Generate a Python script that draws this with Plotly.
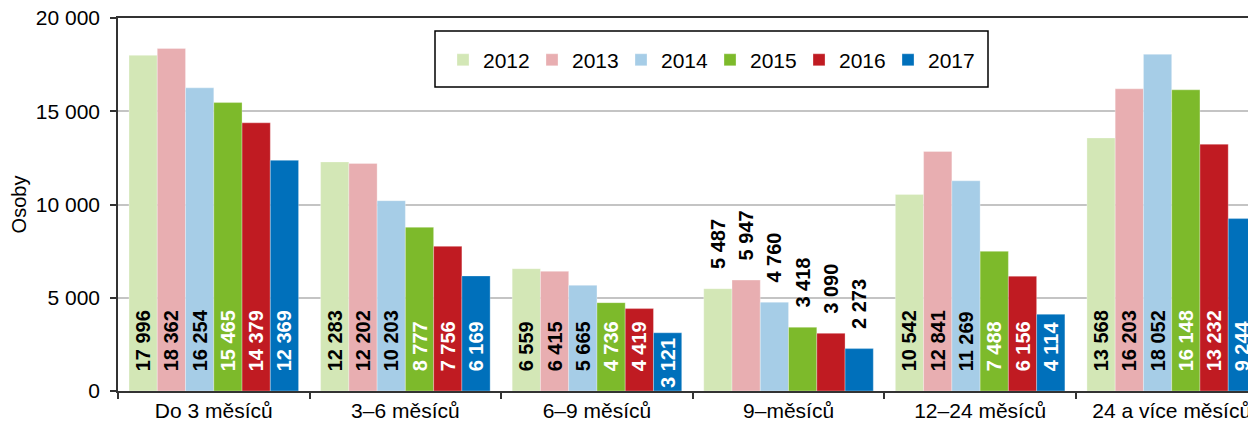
import plotly.graph_objects as go

# Data
categories = ["Do 3 měsíců", "3–6 měsíců", "6–9 měsíců", "9–měsíců", "12–24 měsíců", "24 a více měsíců"]
years = ["2012", "2013", "2014", "2015", "2016", "2017"]
v2012 = [17996, 12283, 6559, 5487, 10542, 13568]
v2013 = [18362, 12202, 6415, 5947, 12841, 16203]
v2014 = [16254, 10203, 5665, 4760, 11269, 18052]
v2015 = [15465, 8777, 4736, 3418, 7488, 16148]
v2016 = [14379, 7756, 4419, 3090, 6156, 13232]
v2017 = [12369, 6169, 3121, 2273, 4114, 9244]
series = [v2012, v2013, v2014, v2015, v2016, v2017]

colors = ["#d3e7b6", "#e8aeb1", "#a6cde7", "#7dba2b", "#c01b22", "#0070bb"]
label_colors = ["black", "black", "black", "white", "white", "white"]
# labels go above the bars in the short 9-month group
positions = ["inside", "inside", "inside", "outside", "inside", "inside"]

FONT = "Liberation Sans, Arial, sans-serif"
PAD = "\u00a0\u00a0\u00a0"

# the page body has an 8px margin, so the figure is a bit smaller than the window
W, H = 1248, 417
L, T, B = 110, 10, 34

fig = go.Figure()
for year, vals, col, lcol in zip(years, series, colors, label_colors):
    # short bars get their label pushed down to the base so it still fits
    templates = ["<b>" + (PAD if (p == "outside" or v >= 4000) else "") + "%{y:,d}</b>"
                 for v, p in zip(vals, positions)]
    fig.add_trace(go.Bar(
        x=categories, y=vals, name=year,
        marker=dict(color=col, line=dict(color="rgba(255,255,255,0.6)", width=0.5)),
        texttemplate=templates,
        textposition=positions,
        textangle=-90,
        insidetextanchor="start",
        insidetextfont=dict(family=FONT, size=20, color=lcol),
        outsidetextfont=dict(family=FONT, size=20, color="black"),
        cliponaxis=False,
    ))

# legend frame (taller than plotly's own legend border)
fig.add_shape(type="rect", xref="paper", yref="paper",
              x0=(435 - 118) / 1138, x1=(988 - 118) / 1138,
              y0=(391 - 87) / 373, y1=(391 - 31) / 373,
              line=dict(color="black", width=1.5), fillcolor="white", layer="above")

fig.update_layout(
    width=W, height=H,
    margin=dict(l=L, r=0, t=T, b=B, autoexpand=False),
    plot_bgcolor="white", paper_bgcolor="white",
    separators=", ",
    barmode="group", bargap=0.115, bargroupgap=0,
    font=dict(family=FONT, size=21, color="black"),
    uniformtext=dict(minsize=20, mode="show"),
    showlegend=True,
    legend=dict(
        orientation="h", x=0.2856, y=0.887, xanchor="left", yanchor="middle",
        bgcolor="rgba(0,0,0,0)", borderwidth=0,
        font=dict(family=FONT, size=21, color="black"),
        entrywidth=44, entrywidthmode="pixels",
    ),
    xaxis=dict(
        range=[-0.5, 5.44], tickson="boundaries", automargin=False,
        ticks="outside", ticklen=6, tickcolor="#333", tickwidth=1.5,
        showline=True, linecolor="#333", linewidth=1.5, mirror=True,
        showgrid=False, tickfont=dict(size=21),
    ),
    yaxis=dict(
        range=[0, 20000], dtick=5000, tickformat=",d", automargin=False,
        ticks="outside", ticklen=6, tickcolor="#333", tickwidth=1.5,
        ticklabelstandoff=6, ticklabeloverflow="allow",
        showline=True, linecolor="#333", linewidth=1.5,
        showgrid=True, gridcolor="#c4c4c4", gridwidth=1.5,
        zeroline=False, tickfont=dict(size=21),
        title=dict(text="Osoby", font=dict(size=20), standoff=10),
    ),
)

fig.write_html("out.html")
